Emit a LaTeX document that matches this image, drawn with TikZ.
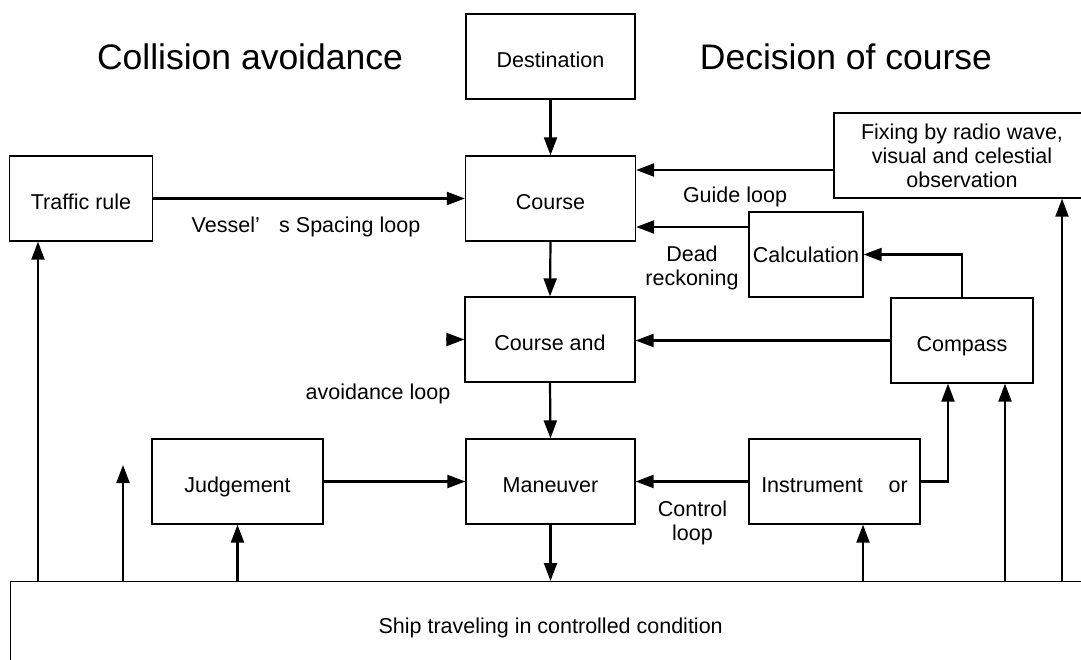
\documentclass[tikz,border=0pt]{standalone}
\usepackage{fontspec}
\setmainfont{Liberation Sans}
\usetikzlibrary{arrows.meta, positioning, calc}

\begin{document}
\begin{tikzpicture}[x=1pt, y=-1pt,
  font=\fontsize{21.5}{24}\selectfont,
  blk/.style={draw, line width=1.3pt, minimum height=85, inner sep=2pt, align=center},
  one/.style={blk, text height=27pt, text depth=4.6pt},
  lbl/.style={align=center, inner sep=0pt},
  big/.style={font=\fontsize{35.5}{40}\selectfont, inner sep=0pt},
  arr/.style={line width=2.2pt, -{Triangle[length=18pt, width=13pt]}}]

  \useasboundingbox (0,0) rectangle (1081,660);
  \clip (0,0) rectangle (1081,660);

  % --- titles ---
  \node[big] (tleft) at (250,57) {Collision avoidance};
  \node[big] (tright) at (846,57) {Decision of course};

  % --- middle column ---
  \node[one, minimum width=169] (dest) at (550.5,56.5) {Destination};
  \node[one, minimum width=170] (course) at (550.5,198.5) {Course};
  \node[one, minimum width=170] (courseand) at (550,339.5) {Course and};
  \node[one, minimum width=169] (maneuver) at (550.5,481.5) {Maneuver};

  % --- left side ---
  \node[one, minimum width=143] (traffic) at (81,198.5) {Traffic rule};
  \node[one, minimum width=171] (judge) at (237.5,481.5) {Judgement};

  % --- right side ---
  \node[blk, minimum width=256] (fixing) at (962,155.5) {Fixing by radio wave,\\visual and celestial\\observation};
  \node[blk, minimum width=114, inner sep=0pt] (calc) at (806,254.5) {Calculation};
  \node[one, minimum width=142] (compass) at (962,340.5) {Compass};
  \node[one, minimum width=171] (instr) at (834.5,481.5) {Instrument\hspace{1.2em}or};

  % --- ship ---
  \node[blk, minimum width=1080, minimum height=92, anchor=north west] (ship) at (10,581) {Ship traveling in controlled condition};

  % --- loop labels ---
  \node[lbl] (vessel) at (306,227) {Vessel’\hspace{0.9em}s Spacing loop};
  \node[lbl] (guide) at (735,197) {Guide loop};
  \node[lbl] (dead) at (692,268) {Dead\\reckoning};
  \node[lbl] (avoid) at (378,394) {avoidance loop};
  \node[lbl] (ctrl) at (692.5,523) {Control\\loop};

  \coordinate (yguide) at (0,170);
  \coordinate (ydead) at (0,227);
  \coordinate (free1) at (123,465);
  \coordinate (free2) at (446,339.5);

  % --- connectors ---
  \draw[arr] (dest.south) -- (course.north);
  \draw[arr] (course.south) -- (courseand.north);
  \draw[arr] (courseand.south) -- (maneuver.north);
  \draw[arr] (maneuver.south) -- (maneuver.south |- ship.north);
  \draw[arr] (traffic.east) -- (course.west);
  \draw[arr] (fixing.west |- yguide) -- (course.east |- yguide);
  \draw[arr] (calc.west |- ydead) -- (course.east |- ydead);
  \draw[arr] (compass.north) |- (calc.east);
  \draw[arr] (compass.west) -- (compass.west -| courseand.east);
  \draw[arr] (judge.east) -- (maneuver.west);
  \draw[arr] (instr.west) -- (maneuver.east);
  \draw[arr] (instr.east) -| ([xshift=-14]compass.south);
  \draw[arr] (free2) -- (courseand.west);

  % --- feedback from the ship ---
  \draw[arr] ([xshift=-43]traffic.south |- ship.north) -- ([xshift=-43]traffic.south);
  \draw[arr] (free1 |- ship.north) -- (free1);
  \draw[arr] (judge.south |- ship.north) -- (judge.south);
  \draw[arr] ([xshift=28.5]instr.south |- ship.north) -- ([xshift=28.5]instr.south);
  \draw[arr] ([xshift=43]compass.south |- ship.north) -- ([xshift=43]compass.south);
  \draw[arr] ([xshift=100]fixing.south |- ship.north) -- ([xshift=100]fixing.south);
\end{tikzpicture}
\end{document}
